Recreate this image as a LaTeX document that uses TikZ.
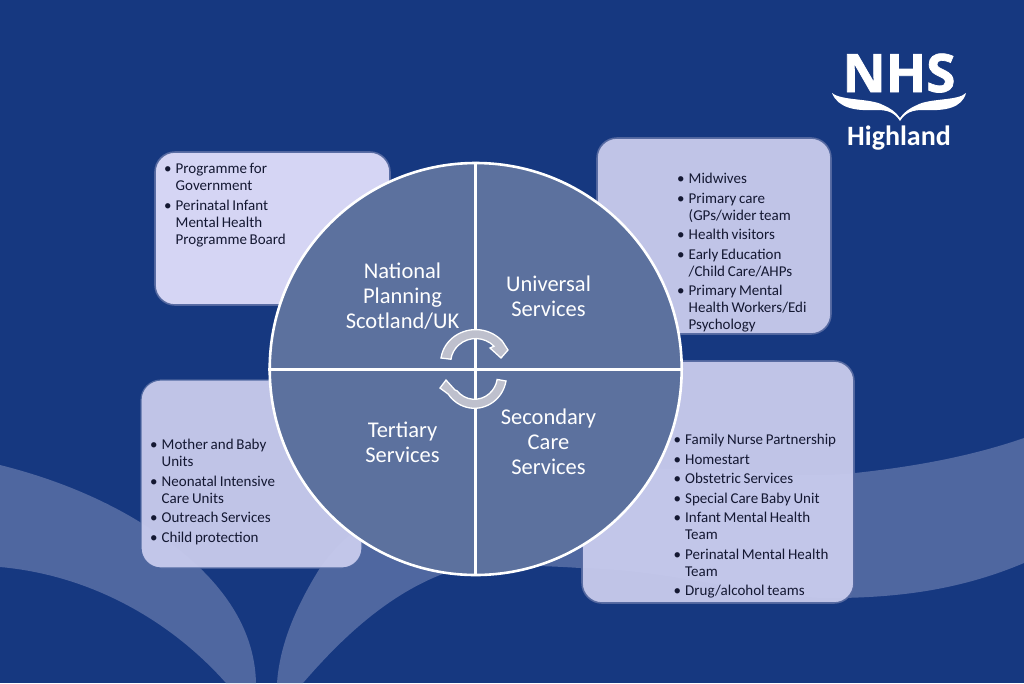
\documentclass[tikz,border=0pt]{standalone}
\usepackage{fontspec}
\setmainfont{Carlito}
\newfontfamily\logofont[BoldFeatures={FakeBold=1.4}]{Open Sans}
\newfontfamily\qfont{Carlito}
\usetikzlibrary{calc}
\definecolor{bgblue}{RGB}{22,56,128}
\definecolor{bandblue}{RGB}{79,103,160}
\definecolor{boxfill}{RGB}{199,202,236}
\definecolor{boxfilltop}{RGB}{221,220,249}
\definecolor{boxedge}{RGB}{84,104,160}
\definecolor{circfill}{RGB}{92,113,158}
\definecolor{arrowfill}{RGB}{190,192,205}
\definecolor{listink}{RGB}{20,24,50}
\newcommand{\bl}[1]{\par\noindent\makebox[11.5pt][l]{\textbullet}\parbox[t]{175pt}{\raggedright\spaceskip=2.7pt\strut #1\strut}\par\prevdepth=\dp\strutbox\vskip2.5pt}
\tikzset{
  x=1pt,y=-1pt,
  panel/.style={draw=boxedge,line width=1.6pt,fill=boxfill,fill opacity=.96,draw opacity=.95,rounded corners=20pt},
  listtext/.style={anchor=north west,inner sep=0pt,text=listink,text width=190pt,align=left,
    font=\fontsize{15}{17}\selectfont},
  qlabel/.style={text=white,align=center,inner sep=0pt,font=\qfont\fontsize{22.5}{25}\selectfont},
  cycle/.style={draw=white,line width=1.3pt,fill=arrowfill,line join=miter},
  divider/.style={draw=white,line width=3pt},
}
\begin{document}
\begin{tikzpicture}
\useasboundingbox (0,0) rectangle (1024,683);
\fill[bgblue] (0,0) rectangle (1024,683);
% background ribbons
\fill[bandblue] (0,465) .. controls (80,485) and (150,520) .. (200,568)
  .. controls (235,602) and (255,640) .. (256,683) -- (226,683)
  .. controls (170,620) and (90,575) .. (0,567) -- cycle;
\fill[bandblue] (277,683) .. controls (280,640) and (300,600) .. (320,568)
  .. controls (360,510) and (440,470) .. (600,468)
  .. controls (700,466) and (790,480) .. (855,473)
  .. controls (920,466) and (975,455) .. (1024,438) -- (1024,563)
  .. controls (960,590) and (900,597) .. (840,598)
  .. controls (760,600) and (680,570) .. (580,568)
  .. controls (520,564) and (470,565) .. (440,575)
  .. controls (385,597) and (340,640) .. (303,683) -- cycle;
% panels
\draw[panel,fill=boxfilltop] (155,152) rectangle (390,305);
\draw[panel] (597,138) rectangle (831,334);
\draw[panel,draw=bandblue,line width=1.2pt] (141,380) rectangle (362,568);
\draw[panel] (582,361) rectangle (854,603);
% list text
\node[listtext] (listA) at (164,156.5) {\bl{Programme for\newline Government}\bl{Perinatal Infant\newline Mental Health\newline Programme Board}};
\node[listtext] (listB) at (677,166.5) {\bl{Midwives}\bl{Primary care\newline (GPs/wider team}\bl{Health visitors}\bl{Early Education\newline /Child Care/AHPs}\bl{Primary Mental\newline Health Workers/Edi\newline Psychology}};
\node[listtext] (listC) at (150,432.5) {\bl{Mother and Baby\newline Units}\bl{Neonatal Intensive\newline Care Units}\bl{Outreach Services}\bl{Child protection}};
\node[listtext] (listD) at (673.5,427.5) {\bl{Family Nurse Partnership}\bl{Homestart}\bl{Obstetric Services}\bl{Special Care Baby Unit}\bl{Infant Mental Health\newline Team}\bl{Perinatal Mental Health\newline Team}\bl{Drug/alcohol teams}};
% main circle
\node[circle,draw=white,line width=2.6pt,fill=circfill,minimum size=412pt,inner sep=0pt] (disc) at (475.7,369) {};
\draw[divider] (disc.north) -- (disc.south);
\draw[divider] (disc.west) -- (disc.east);
% quadrant labels
\node[qlabel] (qa) at (402.5,296) {National\\Planning\\Scotland/UK};
\node[qlabel] (qb) at (548.5,296) {Universal\\Services};
\node[qlabel] (qc) at (402.5,442) {Tertiary\\Services};
\node[qlabel] (qd) at (548.5,442) {Secondary\\Care\\Services};
% cycle arrows
\draw[cycle] (441,358) arc[start angle=188,end angle=320,x radius=35,y radius=33]
  -- (508,350) -- (501,358) -- (490,348) -- (494,346.2)
  arc[start angle=317,end angle=188,x radius=25,y radius=24] -- cycle;
\draw[cycle] (506,381) arc[start angle=10,end angle=145,x radius=32,y radius=33]
  -- (440,388) -- (446,380) -- (455,390) -- (456.9,390.7)
  arc[start angle=140,end angle=10,x radius=23,y radius=24] -- cycle;
% logo
\node[anchor=base,inner sep=0pt,text=white,font=\logofont\bfseries\fontsize{53}{53}\selectfont] (nhs) at (899,92) {NHS};
\node[anchor=base,inner sep=0pt,text=white,font=\qfont\bfseries\fontsize{28}{28}\selectfont] (hl) at (899,145) {Highland};
\fill[white] (832,93) .. controls (842,101) and (870,98) .. (883,105)
  .. controls (890,108) and (896,112) .. (900,118)
  .. controls (904,112) and (910,108) .. (917,105)
  .. controls (930,98) and (958,101) .. (966,93)
  .. controls (962,108) and (945,111) .. (925,110)
  .. controls (912,109.5) and (905,113) .. (900,121)
  .. controls (895,113) and (888,109.5) .. (875,110)
  .. controls (855,111) and (838,108) .. (832,93) -- cycle;
\end{tikzpicture}
\end{document}
